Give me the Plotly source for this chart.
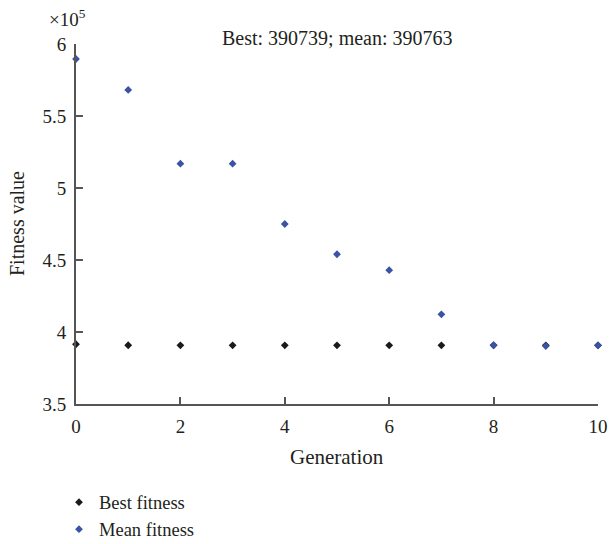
import plotly.graph_objects as go

generations = [0, 1, 2, 3, 4, 5, 6, 7, 8, 9, 10]
best_fitness = [391500, 390800, 390780, 390770, 390760, 390755, 390750, 390745, 390742, 390740, 390739]
mean_fitness = [589600, 568100, 516900, 516900, 475000, 454000, 442900, 412300, 390900, 390200, 390763]
y_tickvals = [350000, 400000, 450000, 500000, 550000, 600000]
y_ticktext = ["3.5", "4", "4.5", "5", "5.5", "6"]
x_tickvals = [0, 2, 4, 6, 8, 10]

FONT = "Liberation Serif"
TXT = "#231f20"
AX = "#555555"
fig = go.Figure()
fig.add_trace(go.Scatter(x=generations, y=best_fitness, mode="markers", name="Best fitness",
                         marker=dict(symbol="diamond", size=6, color="#1a1a1a"),
                         cliponaxis=False))
fig.add_trace(go.Scatter(x=generations, y=mean_fitness, mode="markers", name="Mean fitness",
                         marker=dict(symbol="diamond", size=6, color="#3a53a4"),
                         cliponaxis=False))

fig.update_layout(
    width=610, height=544,
    margin=dict(l=76, r=12, t=44, b=140, autoexpand=False),
    paper_bgcolor="white", plot_bgcolor="white",
    font=dict(family=FONT, size=19, color=TXT),
    showlegend=True,
    legend=dict(x=59 / 610, xref="container", y=0.111, yref="container",
                xanchor="left", yanchor="top", orientation="v",
                font=dict(family=FONT, size=18.5, color=TXT),
                tracegroupgap=0, itemwidth=30, bgcolor="rgba(0,0,0,0)"),
    xaxis=dict(range=[0, 10], tickvals=x_tickvals, ticks="inside", ticklen=7,
               tickcolor=AX, tickwidth=1.5, showline=True, linecolor=AX, linewidth=2,
               showgrid=False, zeroline=False, automargin=False,
               tickfont=dict(size=19), ticklabelstandoff=4),
    yaxis=dict(range=[350000, 600000], tickvals=y_tickvals, ticktext=y_ticktext,
               ticks="inside", ticklen=7, tickcolor=AX, tickwidth=1.5, showline=True,
               linecolor=AX, linewidth=2, showgrid=False, zeroline=False,
               automargin=False, tickfont=dict(size=19), ticklabelstandoff=4),
    annotations=[
        dict(text="Best: 390739; mean: 390763", x=0.5, y=1.0, xref="paper", yref="paper",
             xanchor="center", yanchor="middle", showarrow=False, yshift=6, xshift=0,
             font=dict(family=FONT, size=20, color=TXT)),
        dict(text="×10<sup>5</sup>", x=0, y=1.0, xref="paper", yref="paper",
             xanchor="right", yanchor="middle", showarrow=False, yshift=26, xshift=12,
             font=dict(family=FONT, size=19, color=TXT)),
        dict(text="Generation", x=0.5, y=0, xref="paper", yref="paper",
             xanchor="center", yanchor="middle", showarrow=False, yshift=-53,
             font=dict(family=FONT, size=21, color=TXT)),
        dict(text="Fitness value", x=0, y=0.5, xref="paper", yref="paper",
             xanchor="center", yanchor="middle", showarrow=False, xshift=-59,
             textangle=-90, font=dict(family=FONT, size=20, color=TXT)),
    ],
)
fig.write_html("out.html")
